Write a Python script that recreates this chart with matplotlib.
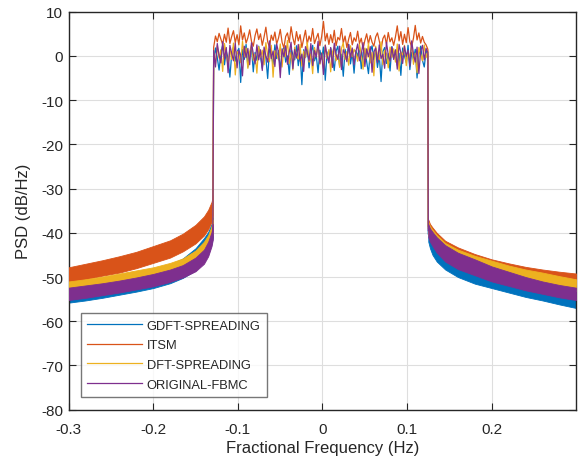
import numpy as np
import matplotlib
matplotlib.use("Agg")
import matplotlib.pyplot as plt

plt.rcParams['font.family'] = ['Liberation Sans', 'DejaVu Sans']

series_names = ["GDFT-SPREADING", "ITSM", "DFT-SPREADING", "ORIGINAL-FBMC"]
colors = ["#0072BD", "#D95319", "#EDB120", "#7E2F8E"]

# in-band edges (Hz)
band_lo, band_hi = -0.1285, 0.1245

# in-band PSD values (dB/Hz)
inband_gdft = [-1.5, 1.8, -0.4, -3.2, 0.6, 2.4, -2.0, 1.1, -0.6, -4.8, 0.3, 2.0, -1.2, 0.9, 1.7, -6.0, 1.5, -0.8, 2.6, -2.5,
               0.4, 1.9, -3.6, 0.8, -1.0, 2.2, -0.1, -2.8, 1.0, -0.4, -5.1, 1.6, 0.2, -1.9, 2.5, -0.6, 1.2, -3.0, 0.5, 2.1,
               -1.4, 0.0, -4.2, 1.7, 0.3, -0.9, 2.3, -2.2, 0.7, -6.5, 1.4, -0.3, 1.9, -2.7, 0.6, 2.4, -1.1, 0.1, -3.8, 1.3,
               -0.7, 2.0, -5.5, 0.9, -1.6, 1.8, -0.2, -3.3, 1.1, 2.2, -2.4, 0.4, -4.6, 1.5, -0.5, 2.6, -1.8, 0.8, -3.9, 1.2,
               -0.1, 2.0, -2.9, 0.7, 1.6, -1.3, -4.0, 0.9, 2.3, -0.8, 1.4, -2.6, 0.2, -5.8, 1.0, 1.9, -1.7, 0.5, -3.4, 2.1,
               -0.5, 1.2, -2.1, 0.6, -4.4, 1.8, 0.0, -1.5, 2.4, -3.1, 0.8, -0.9, 1.5, -5.0, 0.4, 2.2, -1.0, -2.5, 1.1, 0.3]
inband_itsm = [2.0, 4.5, 3.2, 5.1, 3.8, 2.6, 4.9, 3.1, 6.3, 2.8, 4.4, 5.7, 3.0, 4.8, 2.5, 6.8, 3.6, 5.2, 2.9, 4.1,
               5.9, 3.3, 2.2, 4.6, 6.1, 3.7, 5.0, 2.4, 4.3, 6.5, 3.2, 2.0, 4.7, 3.5, 5.4, 2.7, 4.0, 6.0, 3.1, 1.8,
               4.4, 5.2, 3.0, 6.6, 4.1, 2.5, 5.5, 3.4, 4.8, 1.9, 3.9, 5.8, 2.7, 4.5, 3.3, 6.2, 2.8, 4.0, 5.1, 2.3,
               4.4, 7.8, 3.4, 5.1, 2.6, 4.8, 3.0, 5.8, 2.3, 4.2, 3.6, 6.2, 2.9, 4.5, 1.9, 3.8, 5.3, 2.5, 4.1, 3.3,
               5.6, 2.8, 4.0, 1.6, 3.5, 5.0, 2.7, 4.6, 3.1, 2.2, 4.3, 5.2, 3.4, 1.4, 3.9, 4.7, 2.6, 5.3, 3.2, 4.1,
               2.4, 4.3, 6.8, 3.4, 5.5, 2.6, 4.9, 3.0, 6.4, 3.2, 2.1, 4.0, 6.9, 3.6, 5.2, 2.9, 4.4, 3.1, 2.5, 1.5]
inband_dft = [0.5, -1.8, 2.3, -0.5, 1.4, -3.5, 2.8, 0.2, -2.2, 1.7, -0.8, 2.9, -4.3, 1.0, 0.3, -1.5, 3.3, -0.2, 1.8, -2.8,
              0.9, 2.5, -1.0, 0.4, -3.9, 2.1, -0.3, 1.3, -2.0, 3.0, 0.1, -1.3, 2.4, -4.8, 1.2, 0.6, -0.9, 2.7, -2.5, 1.5,
              -0.1, 3.5, -1.7, 0.8, -3.2, 2.0, 0.2, -0.7, 2.6, -2.3, 1.1, -0.4, 3.1, -1.4, 0.5, -4.0, 1.9, 0.0, 2.2, -1.9,
              0.7, -2.9, 2.5, -0.6, 1.4, -3.6, 0.9, 2.1, -1.1, 0.3, -2.6, 1.7, 3.0, -0.8, 1.0, -2.1, 2.3, -0.2, 1.5, 0.6,
              -1.2, 2.6, 0.4, -3.0, 1.8, -0.5, 2.9, -1.6, 0.8, -4.5, 2.2, 0.1, -0.9, 3.2, -2.0, 1.3, 0.5, -2.7, 2.0, -0.3,
              1.6, -1.4, 2.7, -3.4, 0.9, 0.2, 2.4, -2.2, 1.1, -0.7, 3.0, -1.9, 0.6, -3.8, 1.9, 0.4, -1.1, 2.5, -0.4, 1.2]
inband_orig = [1.2, -2.5, 2.8, 0.1, -1.6, 3.2, -0.7, 1.9, -3.8, 2.4, 0.6, -1.1, 2.9, -2.7, 1.3, 0.2, -4.5, 2.2, -0.4, 1.7,
               -2.0, 3.0, 0.5, -1.8, 2.5, -0.9, 1.4, -3.3, 2.0, 0.0, -1.4, 3.4, -0.6, 1.1, -2.4, 2.7, 0.8, -4.9, 1.6, -0.2,
               2.3, -1.9, 0.9, 3.1, -2.9, 1.5, -0.5, 2.6, -1.2, 0.4, -3.5, 2.1, 0.7, -1.0, 2.8, -2.2, 1.2, -0.3, 3.3, -1.7,
               0.6, -4.2, 2.4, 0.1, -1.5, 1.9, -2.6, 2.9, 0.3, -0.8, 2.2, -3.1, 1.4, 0.5, -1.3, 2.6, -0.4, 1.8, -2.0, 1.0,
               2.7, -1.1, 0.3, 3.0, -2.4, 1.6, -0.2, 2.1, -3.7, 0.9, 1.8, -1.5, 2.5, -0.6, 0.4, -2.8, 3.1, 0.2, -1.2, 2.0,
               -0.8, 1.4, -3.0, 2.6, 0.7, -1.7, 2.2, -0.1, 1.3, -2.3, 3.4, 0.5, -1.4, 2.0, -4.0, 1.1, 2.4, -0.9, 1.7, 0.8]

# out-of-band skirt envelopes (upper / lower ripple edges, dB/Hz)
f_left = [-0.3, -0.28, -0.26, -0.24, -0.22, -0.2, -0.18, -0.165, -0.15, -0.14, -0.135, -0.131, -0.1295]
f_right = [0.125, 0.127, 0.13, 0.135, 0.145, 0.16, 0.18, 0.2, 0.22, 0.24, 0.26, 0.28, 0.2995]

left_hi_gdft = [-52.0, -51.5, -51.0, -50.3, -49.5, -48.6, -47.2, -45.8, -43.5, -41.2, -39.8, -38.0, -36.5]
left_lo_gdft = [-55.8, -55.3, -54.7, -54.0, -53.3, -52.5, -51.4, -50.2, -48.5, -46.5, -44.8, -42.5, -41.0]
left_hi_itsm = [-47.8, -47.0, -46.2, -45.3, -44.3, -43.0, -41.7, -40.2, -38.2, -36.3, -34.8, -33.0, -31.5]
left_lo_itsm = [-51.2, -50.5, -49.7, -49.0, -48.0, -46.8, -45.6, -44.2, -42.4, -40.6, -39.2, -37.5, -36.0]
left_hi_dft = [-51.0, -50.5, -49.9, -49.2, -48.5, -47.8, -46.8, -45.8, -44.0, -42.0, -40.5, -38.5, -37.0]
left_lo_dft = [-53.3, -52.8, -52.2, -51.6, -51.0, -50.3, -49.3, -48.3, -46.8, -45.0, -43.5, -41.5, -40.0]
left_hi_orig = [-52.4, -51.9, -51.4, -50.8, -50.1, -49.3, -48.3, -47.3, -45.6, -43.8, -42.0, -39.8, -38.0]
left_lo_orig = [-55.2, -54.7, -54.1, -53.5, -52.8, -52.1, -51.1, -50.1, -48.7, -47.0, -45.3, -43.0, -41.5]

right_hi_gdft = [-38.5, -39.5, -40.5, -41.5, -43.0, -44.5, -45.8, -47.0, -48.0, -48.8, -49.6, -50.4, -51.0]
right_lo_gdft = [-42.0, -43.5, -45.0, -46.5, -48.3, -50.0, -51.5, -52.5, -53.5, -54.5, -55.3, -56.2, -57.0]
right_hi_itsm = [-37.0, -38.0, -38.8, -40.0, -41.8, -43.3, -44.8, -46.0, -46.9, -47.7, -48.3, -48.8, -49.2]
right_lo_itsm = [-40.0, -41.0, -42.0, -43.3, -45.0, -46.5, -47.8, -48.8, -49.6, -50.3, -50.9, -51.4, -51.8]
right_hi_dft = [-37.5, -38.5, -39.3, -40.5, -42.3, -43.8, -45.2, -46.3, -47.4, -48.3, -49.0, -49.8, -50.5]
right_lo_dft = [-40.5, -41.5, -42.5, -44.0, -45.8, -47.3, -48.5, -49.3, -50.2, -51.0, -51.8, -52.5, -53.2]
right_hi_orig = [-38.0, -39.0, -39.8, -41.0, -42.8, -44.5, -46.0, -47.6, -48.8, -50.0, -51.0, -51.8, -52.4]
right_lo_orig = [-41.0, -42.0, -43.0, -44.5, -46.5, -48.2, -49.6, -51.0, -52.0, -53.0, -53.8, -54.6, -55.2]

inband = [inband_gdft, inband_itsm, inband_dft, inband_orig]
left_hi = [left_hi_gdft, left_hi_itsm, left_hi_dft, left_hi_orig]
left_lo = [left_lo_gdft, left_lo_itsm, left_lo_dft, left_lo_orig]
right_hi = [right_hi_gdft, right_hi_itsm, right_hi_dft, right_hi_orig]
right_lo = [right_lo_gdft, right_lo_itsm, right_lo_dft, right_lo_orig]

fig = plt.figure(figsize=(5.78, 4.60), dpi=100)
ax = fig.add_axes([68.5 / 578, 49.3 / 460, 507.5 / 578, 398 / 460])

axcol = "#262626"
for i, name in enumerate(series_names):
    c = colors[i]
    ax.fill_between(f_left, left_lo[i], left_hi[i], color=c, lw=0.6, edgecolor=c, zorder=2 + i)
    ax.fill_between(f_right, right_lo[i], right_hi[i], color=c, lw=0.6, edgecolor=c, zorder=2 + i)
    vals = inband[i]
    xs = np.linspace(band_lo, band_hi, len(vals))
    fx = [f_left[-1]] + list(xs) + [f_right[0]]
    fy = [0.5 * (left_hi[i][-1] + left_lo[i][-1])] + list(vals) + [0.5 * (right_hi[i][0] + right_lo[i][0])]
    ax.plot(fx, fy, color=c, lw=0.9, label=name, zorder=2 + i)

ax.set_xlim(-0.3, 0.2995)
ax.set_ylim(-80, 10)
ax.set_xticks([-0.3, -0.2, -0.1, 0, 0.1, 0.2])
ax.set_xticklabels(["-0.3", "-0.2", "-0.1", "0", "0.1", "0.2"])
ax.set_yticks(np.arange(-80, 11, 10))
ax.set_yticklabels([str(v) for v in range(-80, 11, 10)])
ax.grid(True, color="#dedede", lw=0.8, zorder=0)
ax.set_axisbelow(True)
ax.tick_params(direction="in", length=5, width=0.8, colors=axcol, labelsize=11,
               top=True, right=True)
ax.tick_params(axis="x", pad=9)
ax.tick_params(axis="y", pad=4)
for s in ax.spines.values():
    s.set_color(axcol)
    s.set_linewidth(1.0)

ax.set_xlabel("Fractional Frequency (Hz)", fontsize=12, color=axcol, labelpad=3)
ax.set_ylabel("PSD (dB/Hz)", fontsize=12, color=axcol)
ax.yaxis.set_label_coords(-0.073, 0.5)

leg = ax.legend(loc="lower left", bbox_to_anchor=(0.0246, 0.032), fontsize=9.3,
                frameon=True, fancybox=False, handlelength=4.2, handletextpad=0.4,
                borderpad=0.5, labelspacing=0.58, borderaxespad=0)
leg.get_frame().set_edgecolor("#555555")
leg.get_frame().set_linewidth(1.0)
leg.set_zorder(20)
for t in leg.get_texts():
    t.set_color(axcol)

fig.savefig("out.png", dpi=100)
